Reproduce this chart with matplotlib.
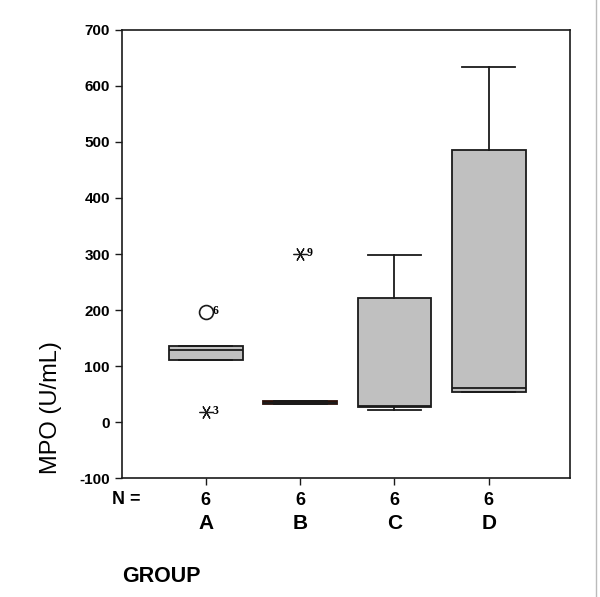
import matplotlib
matplotlib.use("Agg")
import matplotlib.pyplot as plt

groups = ["A", "B", "C", "D"]
n_values = [6, 6, 6, 6]
q1 = [111, 33, 27, 54]
medians = [129, 35, 28, 61]
q3 = [136, 37, 221, 486]
whisker_lo = [111, 33, 21, 54]
whisker_hi = [136, 37, 298, 634]

# outliers: (group index, value, case label)
outlier_groups = [0]
outlier_values = [196]
outlier_labels = ["6"]
extreme_groups = [0, 1]
extreme_values = [18, 300]
extreme_labels = ["3", "9"]

yticks = [-100, 0, 100, 200, 300, 400, 500, 600, 700]

plt.rcParams['font.family'] = ['Liberation Sans', 'DejaVu Sans']

fig = plt.figure(figsize=(6.0, 5.97), dpi=100)
ax = fig.add_axes([0.203, 0.199, 0.747, 0.751])

positions = list(range(1, len(groups) + 1))
stats = []
for i, g in enumerate(groups):
    stats.append(dict(label=g, q1=q1[i], med=medians[i], q3=q3[i],
                      whislo=whisker_lo[i], whishi=whisker_hi[i], fliers=[]))

bp = ax.bxp(stats, positions=positions, widths=0.78, capwidths=0.56,
            patch_artist=True, showfliers=False, manage_ticks=False,
            boxprops=dict(facecolor='#c0c0c0', edgecolor='#1a1a1a', linewidth=1.3),
            medianprops=dict(color='#1a1a1a', linewidth=1.3),
            whiskerprops=dict(color='#1a1a1a', linewidth=1.3),
            capprops=dict(color='#1a1a1a', linewidth=1.3))
# group B box is collapsed to a dark band
bp['boxes'][1].set_facecolor('#3a1a12')
bp['boxes'][1].set_edgecolor('#2a0f08')

for gi, v, lab in zip(outlier_groups, outlier_values, outlier_labels):
    x = positions[gi]
    ax.plot([x], [v], marker='o', markersize=10, markerfacecolor='white',
            markeredgecolor='#1a1a1a', markeredgewidth=1.2, linestyle='none', zorder=5)
    ax.annotate(lab, (x, v), xytext=(5, 1), textcoords='offset points',
                fontsize=8.5, fontweight='bold', family='Liberation Serif', va='center')
for gi, v, lab in zip(extreme_groups, extreme_values, extreme_labels):
    x = positions[gi]
    ax.plot([x], [v], marker=(6, 2, 90), markersize=10, color='#1a1a1a',
            markeredgewidth=0.9, linestyle='none', zorder=5)
    ax.annotate(lab, (x, v), xytext=(5, 1), textcoords='offset points',
                fontsize=8.5, fontweight='bold', family='Liberation Serif', va='center')

ax.set_xlim(0.11, 4.86)
ax.set_ylim(-100, 700)
ax.set_yticks(yticks)
ax.set_yticklabels([str(t) for t in yticks], fontsize=11, fontweight='bold')
ax.set_xticks(positions)
ax.set_xticklabels([str(n) for n in n_values], fontsize=13, fontweight='bold')
ax.tick_params(axis='both', direction='out', length=5, width=1, color='#1a1a1a')
ax.tick_params(axis='x', pad=5)
for sp in ax.spines.values():
    sp.set_linewidth(1.2)
    sp.set_color('#1a1a1a')

for x, g in zip(positions, groups):
    ax.text(x, -0.101, g, transform=ax.get_xaxis_transform(), ha='center', va='center',
            fontsize=15, fontweight='bold')
fig.text(112 / 600, 1 - 500 / 597, "N =", fontsize=13, fontweight='bold', ha='left', va='center')
fig.text(122 / 600, 1 - 576 / 597, "GROUP", fontsize=15.5, fontweight='bold', ha='left', va='center')
ax.set_ylabel("MPO (U/mL)", fontsize=17)
ax.yaxis.set_label_coords(-0.133, 0.158)

fig.add_artist(plt.Line2D([596 / 600, 596 / 600], [0, 1], color='#bbbbbb', linewidth=1))

fig.savefig("out.png", dpi=100)
